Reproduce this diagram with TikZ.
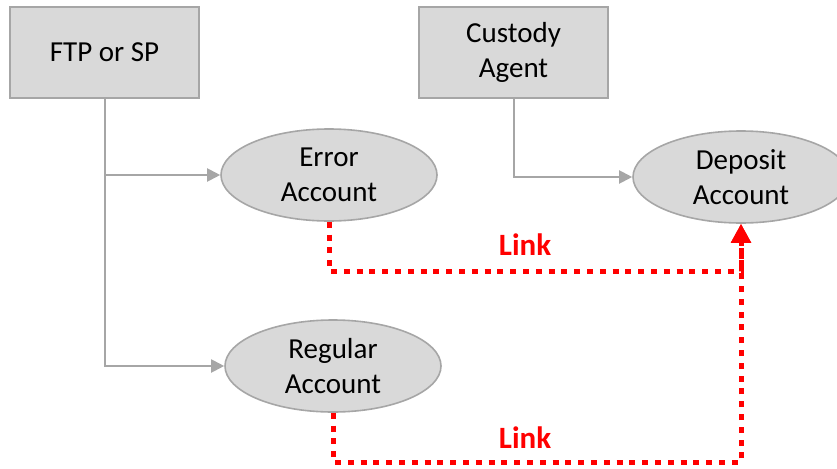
\documentclass[tikz,border=0pt]{standalone}
\usepackage{fontspec}
\setmainfont{Carlito}
\usetikzlibrary{arrows.meta, shapes.geometric}
\usetikzlibrary{positioning}
\usepackage{xcolor}
\definecolor{boxgray}{HTML}{D9D9D9}
\definecolor{linegray}{HTML}{A6A6A6}

\begin{document}
\begin{tikzpicture}[x=1pt, y=-1pt,
		every node/.style={font=\fontsize{29}{35}\selectfont, align=center, text=black},
		party/.style={draw=linegray, fill=boxgray, line width=2pt, minimum width=189pt, minimum height=91pt, inner sep=0pt},
		acct/.style={ellipse, draw=linegray, fill=boxgray, line width=1.6pt, minimum width=216pt, minimum height=92pt, inner sep=0pt},
		feed/.style={draw=linegray, line width=2pt, -{Triangle[length=13pt, width=13pt]}},
		link/.style={draw=red, line width=5pt, dash pattern=on 6pt off 6.8pt, -{Triangle[length=19pt, width=19pt]}}]
				\useasboundingbox (0,0) rectangle (837,468);
				
				\node[party] (ftp) at (104.5,52.5) {FTP or SP};
				\node[party] (custody) at (513.5,52.5) {Custody\\Agent};
				
				\node[acct] (err) at (329,175) {Error\\Account};
				\node[acct] (reg) at (333,366) {Regular\\Account};
				\node[acct] (dep) at (741,177) {Deposit\\Account};
				
				\draw[feed] (ftp.south) |- (err.west);
				\draw[feed] (ftp.south) |- (reg.west);
				\draw[feed] (custody.south) |- (dep.west);
				
				\coordinate (j1) at (741,271);
				\coordinate (j2) at (741,462);
				\draw[link] (err.south) |- (j1) -- (dep.south);
				\draw[link] (reg.south) |- (j2) -- (dep.south);
				
				\node[text=red, font=\fontsize{31}{35}\selectfont\bfseries] (l1) at (525,245) {Link};
				\node[text=red, font=\fontsize{31}{35}\selectfont\bfseries] (l2) at (525,438) {Link};
			\end{tikzpicture}
\end{document}
